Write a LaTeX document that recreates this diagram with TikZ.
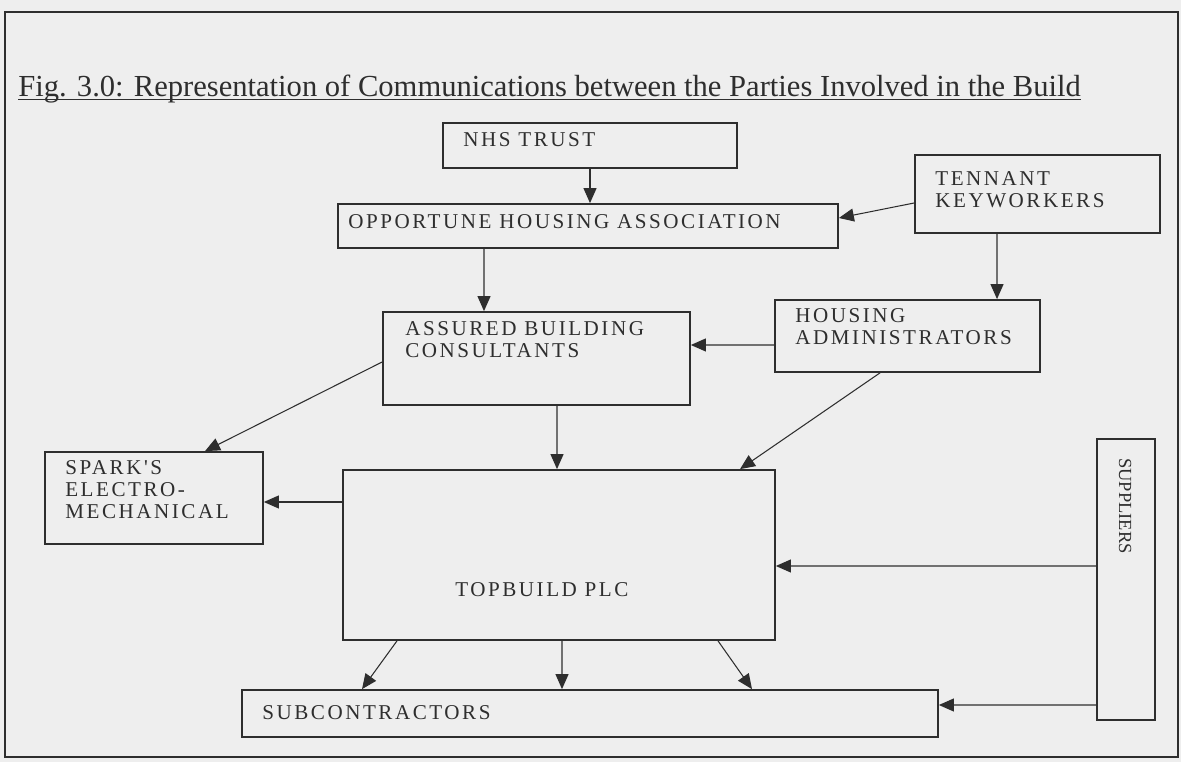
\documentclass[tikz,border=0pt]{standalone}
\usepackage{fontspec}
\setmainfont{Liberation Serif}
\newfontfamily\boxfont[LetterSpace=12]{Liberation Serif}
\usetikzlibrary{arrows.meta, positioning}
\definecolor{paper}{HTML}{EEEEEE}
\definecolor{ink}{HTML}{2E2E2E}

\begin{document}
\begin{tikzpicture}[
  party/.style={draw=ink, line width=1pt, rectangle, inner sep=0pt},
  lbl/.style={font=\boxfont\fontsize{12}{12.5}\selectfont, text=ink, align=left, anchor=west, inner sep=0pt},
  arr/.style={-{Triangle[length=3mm, width=2.6mm]}, line width=0.6pt, ink}
]
\useasboundingbox (0,0) rectangle (23.62,15.24);
\fill[paper] (0,0) rectangle (23.62,15.24);
\draw[ink, line width=1.1pt] (0.10,0.10) rectangle (23.56,15.00);

% title
\node[font=\fontsize{17.4}{20}\selectfont, text=ink, anchor=west, inner sep=0pt] (title) at (0.36,13.46)
  {Fig. 3.0: Representation of Communications between the Parties Involved in the Build};
\draw[ink, line width=0.6pt] ([yshift=-2pt]title.base west) -- ([yshift=-2pt]title.base east);

% boxes
\node[party, minimum width=5.88cm, minimum height=0.90cm] (nhs) at (11.80,12.33) {};
\node[party, minimum width=10.00cm, minimum height=0.88cm] (oha) at (11.76,10.72) {};
\node[party, minimum width=4.90cm, minimum height=1.56cm] (tkw) at (20.75,11.36) {};
\node[party, minimum width=5.30cm, minimum height=1.44cm] (hadm) at (18.15,8.52) {};
\node[party, minimum width=6.14cm, minimum height=1.86cm] (abc) at (10.73,8.07) {};
\node[party, minimum width=4.36cm, minimum height=1.84cm] (spark) at (3.08,5.28) {};
\node[party, minimum width=8.64cm, minimum height=3.40cm] (topb) at (11.18,4.14) {};
\node[party, minimum width=1.16cm, minimum height=5.62cm] (supp) at (22.52,3.65) {};
\node[party, minimum width=13.92cm, minimum height=0.94cm] (subc) at (11.80,0.97) {};

% labels
\node[lbl] (nhs-t) at (9.26,12.44) {NHS TRUST};
\node[lbl] (oha-t) at (6.96,10.80) {OPPORTUNE HOUSING ASSOCIATION};
\node[lbl] (tkw-t) at (18.70,11.44) {TENNANT\\KEYWORKERS};
\node[lbl] (hadm-t) at (15.90,8.70) {HOUSING\\ADMINISTRATORS};
\node[lbl] (abc-t) at (8.10,8.44) {ASSURED BUILDING\\CONSULTANTS};
\node[lbl] (spark-t) at (1.30,5.44) {SPARK'S\\ELECTRO-\\MECHANICAL};
\node[lbl] (topb-t) at (9.10,3.44) {TOPBUILD PLC};
\node[lbl] (subc-t) at (5.24,0.98) {SUBCONTRACTORS};
\node[lbl, font=\fontsize{10.5}{12}\selectfont, rotate=-90] (supp-t) at (22.50,6.08) {SUPPLIERS};

% communications
\draw[arr] (nhs.south) -- (oha.north -| nhs.south);
\draw[arr] ([yshift=-0.18cm]tkw.west) -- ([yshift=0.16cm]oha.east);
\draw[arr] ([xshift=-2.08cm]oha.south) -- ([xshift=-1.05cm]abc.north);
\draw[arr] ([xshift=-0.81cm]tkw.south) -- ([xshift=1.79cm]hadm.north);
\draw[arr] ([yshift=-0.18cm]hadm.west) -- ([yshift=0.27cm]abc.east);
\draw[arr] ([yshift=-0.07cm]abc.west) -- ([xshift=1.02cm]spark.north);
\draw[arr] ([xshift=0.41cm]abc.south) -- ([xshift=-0.04cm]topb.north);
\draw[arr] ([xshift=-0.55cm]hadm.south) -- ([xshift=3.62cm]topb.north);
\draw[arr] ([yshift=1.06cm]topb.west) -- ([yshift=-0.08cm]spark.east);
\draw[arr] ([yshift=0.27cm]supp.west) -- ([yshift=-0.22cm]topb.east);
\draw[arr] ([yshift=-2.51cm]supp.west) -- ([yshift=0.17cm]subc.east);
\draw[arr] ([xshift=-3.24cm]topb.south) -- ([xshift=-4.56cm]subc.north);
\draw[arr] ([xshift=0.06cm]topb.south) -- ([xshift=-0.56cm]subc.north);
\draw[arr] ([xshift=3.18cm]topb.south) -- ([xshift=3.24cm]subc.north);
\end{tikzpicture}
\end{document}
